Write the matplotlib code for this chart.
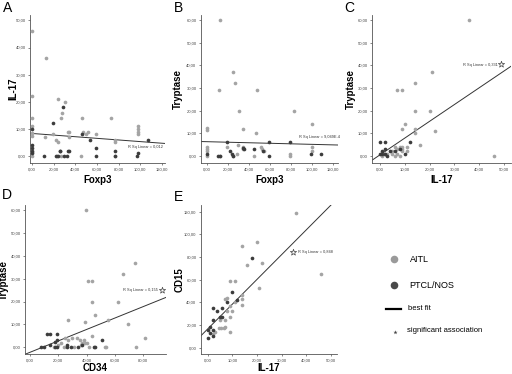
import matplotlib
matplotlib.use("Agg")
import matplotlib.pyplot as plt
import numpy as np

plt.rcParams['font.family'] = ['Liberation Sans', 'DejaVu Sans']

# ---------------- data ----------------
# Panel A: Foxp3 (x) vs IL-17 (y)
a_aitl_x = [0, 0, 0, 0, 0, 0, 0, 0, 12.5, 12, 19, 22, 24, 24.5, 26.5, 28, 30.5, 23, 26.5, 33, 34.5, 34,
            46, 47, 50, 51.5, 59, 45, 73, 77, 77, 77, 98, 98, 98, 98]
a_aitl_y = [46, 22, 14, 11, 8.5, 7.5, 0, 1.5, 36, 7, 8, 6, 21, 5, 14, 16, 20, 0, 0, 9, 9, 7,
            14, 9, 8, 9, 8, 0, 14, 6, 5, 0, 11, 10, 9, 8]
a_ptcl_x = [0, 0, 0, 0, 0, 11, 19.5, 28.3, 25.5, 22, 24, 26, 29.5, 33, 34, 32, 46, 53.5, 59, 59, 77, 77, 98, 97, 107]
a_ptcl_y = [10, 4, 2.8, 1.8, 1, 0, 12, 18, 2, 0, 0, 2, 0, 2, 2, 0, 8, 6, 3, 0, 2, 0, 1, 0, 6]

# Panel B: Foxp3 (x) vs Tryptase (y)
b_aitl_x = [12, 25, 26.5, 11.5, 30, 34.5, 48, 46.5, 83, 100, 0, 0, 0, 0, 0, 0, 18.5, 29, 34, 34, 45,
            51, 52.5, 54, 79, 79, 100, 100, 12, 25, 28]
b_aitl_y = [60, 37, 32, 29, 20, 12, 29, 10, 20, 14, 12.5, 11.5, 4, 3, 2, 0, 4, 5, 4, 3, 0,
            4, 3, 2, 0, 1, 4, 2, 0, 0, 1]
b_ptcl_x = [0, 10, 12, 19, 22, 23.5, 25, 34.3, 35, 45, 53, 59, 59, 79.5, 99.5, 109]
b_ptcl_y = [1, 0, 0, 6, 2.2, 1, 0, 3.4, 3, 3, 2, 0, 6, 6, 1, 1]

# Panel C: IL-17 (x) vs Tryptase (y)
c_aitl_x = [36, 21, 14, 7, 9, 14, 20, 22, 9, 10, 14, 14, 16, 46, 11, 11, 5, 6, 7, 8, 9, 7, 8, 9, 5, 1, 2, 3, 6, 9]
c_aitl_y = [60, 37, 32, 29, 29, 20, 20, 11, 12, 14, 12, 10, 5, 0, 4, 2, 1, 0, 3, 4, 4, 1, 0, 2, 2, 0, 1, 1, 4, 3]
c_ptcl_x = [0, 2, 0, 1, 2, 2, 3, 4, 6, 8, 10, 12, 1]
c_ptcl_y = [6, 6, 1, 2, 1, 3, 0, 2, 2, 3, 1, 6, 1]

# Panel D: CD34 (x) vs Tryptase (y)
d_aitl_x = [39.3, 74, 66, 41, 44, 44, 62, 46, 26.5, 55, 39, 69, 44, 81, 75, 53, 54, 25, 27, 30, 33, 35,
            37, 38, 39, 40, 20, 22, 24, 31, 36, 42, 17]
d_aitl_y = [60, 37, 32, 29, 29, 20, 20, 14, 12, 12, 11, 10, 5, 4, 0, 0, 0, 4, 3, 4, 4, 3,
            2, 3, 2, 2, 1, 2, 0, 0, 1, 0, 0]
d_ptcl_x = [12, 14, 19, 8, 10, 14, 18, 19, 18, 19, 26, 26, 29, 34, 36.5, 50.5, 45, 46]
d_ptcl_y = [6, 6, 6, 0, 0, 1, 2.5, 3, 0, 0, 1, 0, 0, 0, 1, 3, 0, 0]

# Panel E: IL-17 (x) vs CD15 (y)
e_aitl_x = [35.8, 46, 20, 14, 22, 16, 9, 11, 21, 14, 14, 14, 8, 7, 9, 10, 8, 9, 7, 5, 4.5, 5.5, 6.5, 7, 9, 11, 3, 2]
e_aitl_y = [118.5, 64.7, 93.5, 89.7, 74.4, 73, 59, 59, 53, 46.5, 42.6, 37.6, 43.5, 42.6, 37, 32.6, 32, 27,
            24.4, 24.4, 17, 17, 17, 18.5, 14, 40, 14, 12]
e_ptcl_x = [18, 10, 12, 8, 6, 2, 4, 5, 6, 2, 1, 0, 0, 1, 2, 2]
e_ptcl_y = [79, 49, 42, 40, 35, 35, 32.6, 27.4, 27.4, 24.4, 18.5, 15.6, 9, 12.6, 10.6, 16]

# best-fit lines (intercept, slope) and R² labels
fit_intercepts = [8.3, 6.3, 0.5, -2.2, 16.5]
fit_slopes = [-0.030, -0.0117, 0.74, 0.25, 2.19]
r2_labels = ["R Sq Linear = 0,012", "R Sq Linear = 9,049E-4", "R Sq Linear = 0,331",
             "R Sq Linear = 0,155", "R Sq Linear = 0,848"]
significant = [False, False, True, True, True]

panel_letters = ["A", "B", "C", "D", "E"]
x_labels = ["Foxp3", "Foxp3", "IL-17", "CD34", "IL-17"]
y_labels = ["IL-17", "Tryptase", "Tryptase", "Tryptase", "CD15"]
x_ticks = [[0, 20, 40, 60, 80, 100, 120], [0, 20, 40, 60, 80, 100, 120], [0, 10, 20, 30, 40, 50],
           [0, 20, 40, 60, 80], [0, 10, 20, 30, 40, 50]]
y_ticks = [[0, 10, 20, 30, 40, 50], [0, 10, 20, 30, 40, 50, 60], [0, 10, 20, 30, 40, 50, 60],
           [0, 10, 20, 30, 40, 50, 60], [0, 20, 40, 60, 80, 100, 120]]
legend_labels = ["AITL", "PTCL/NOS", "best fit", "significant association"]

# ---------------- layout ----------------
W, H = 512, 374
LIGHT = '#a4a4a4'
DARK = '#3c3c3c'

fig = plt.figure(figsize=(W / 100, H / 100), dpi=100)

def px_axes(left, top, right, bottom):
    return fig.add_axes([left / W, 1 - bottom / H, (right - left) / W, (bottom - top) / H])

# (left, top, right, bottom) pixels, xlim, ylim
specs = [
    ((30, 15, 165, 163), (-1.85, 123), (-2.6, 52)),
    ((200.7, 15, 338, 163), (-6.3, 125), (-3.1, 62.2)),
    ((372.3, 15, 511, 163), (-3.1, 52.8), (-3.1, 62.2)),
    ((25, 205, 165.7, 354.3), (-3.5, 95.8), (-3.07, 62.2)),
    ((200.7, 205, 336.7, 354.3), (-2.8, 52.3), (-5.8, 126)),
]
# label centres in pixels: (ylabel x, xlabel y), panel letter (x, y)
label_px = [(13, 180), (178, 180), (351, 180), (4, 368), (180, 368)]
letter_px = [(3, 8), (174, 8), (344, 8), (2, 195), (174, 197)]
# text positions (data coords) for R² label and star
r2_pos = [(88.6, 3.3), (88, 8.2), (33.5, 40.1), (65.9, 25), (36.7, 84.7)]
star_pos = [None, None, (48.7, 40.6), (93.4, 25.2), (34.6, 84.9)]

datasets = [
    (a_aitl_x, a_aitl_y, a_ptcl_x, a_ptcl_y),
    (b_aitl_x, b_aitl_y, b_ptcl_x, b_ptcl_y),
    (c_aitl_x, c_aitl_y, c_ptcl_x, c_ptcl_y),
    (d_aitl_x, d_aitl_y, d_ptcl_x, d_ptcl_y),
    (e_aitl_x, e_aitl_y, e_ptcl_x, e_ptcl_y),
]

def fmt(v):
    return f"{v:.2f}".replace('.', ',')

for i, ((box, xl, yl), (ax_, ay_, px_, py_)) in enumerate(zip(specs, datasets)):
    ax = px_axes(*box)
    ax.set_xlim(*xl)
    ax.set_ylim(*yl)
    for s in ['top', 'right']:
        ax.spines[s].set_visible(False)
    for s in ['left', 'bottom']:
        ax.spines[s].set_linewidth(0.6)
        ax.spines[s].set_color('#555555')
    ax.scatter(ax_, ay_, s=7, color=LIGHT, linewidths=0, zorder=3)
    ax.scatter(px_, py_, s=7, color=DARK, linewidths=0, zorder=4)
    xs = np.array(xl)
    ax.plot(xs, fit_intercepts[i] + fit_slopes[i] * xs, color='#333333', lw=0.7, zorder=2)
    ax.set_xticks(x_ticks[i])
    ax.set_xticklabels([fmt(v) for v in x_ticks[i]])
    ax.set_yticks(y_ticks[i])
    ax.set_yticklabels([fmt(v) for v in y_ticks[i]])
    ax.tick_params(labelsize=3, length=1.5, width=0.5, pad=1.5, colors='#555555', labelcolor='#444444')
    ax.set_xlabel(x_labels[i], fontsize=7, fontweight='bold')
    ax.set_ylabel(y_labels[i], fontsize=7, fontweight='bold')
    l, t, r, b = box
    ax.yaxis.set_label_coords((label_px[i][0] - l) / (r - l), 0.5)
    ax.xaxis.set_label_coords(0.5, (b - label_px[i][1]) / (b - t))
    ax.xaxis.label.set_va('center')
    ax.yaxis.label.set_va('center')
    ax.text(*r2_pos[i], r2_labels[i], fontsize=2.8, color='#333333', va='center', ha='left')
    if significant[i]:
        ax.scatter([star_pos[i][0]], [star_pos[i][1]], marker='*', s=22, facecolors='white',
                   edgecolors='#444444', linewidths=0.5, zorder=5, clip_on=False)

# legend / letters overlay
lg = fig.add_axes([0, 0, 1, 1])
lg.set_xlim(0, W)
lg.set_ylim(H, 0)
lg.axis('off')
for i in range(5):
    lg.text(letter_px[i][0], letter_px[i][1], panel_letters[i], fontsize=10, ha='left', va='center')
lg.scatter([394], [259], s=30, color='#9a9a9a', linewidths=0)
lg.text(410, 259, legend_labels[0], fontsize=6.5, va='center', ha='left')
lg.scatter([394], [285], s=30, color='#4a4a4a', linewidths=0)
lg.text(409, 285, legend_labels[1], fontsize=6.5, va='center', ha='left')
lg.plot([386, 401], [309, 309], color='black', lw=1.6)
lg.text(408, 308.5, legend_labels[2], fontsize=5.5, va='center', ha='left')
lg.scatter([395], [331.5], marker='*', s=10, color='#444444', linewidths=0)
lg.text(407, 330.5, legend_labels[3], fontsize=5.5, va='center', ha='left')

fig.savefig("out.png", dpi=100)
